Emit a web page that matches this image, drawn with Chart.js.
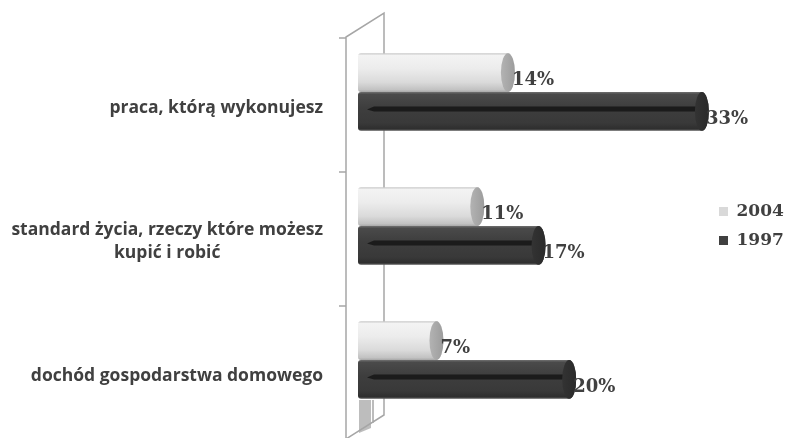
<!DOCTYPE html>
<html>
<head>
<meta charset="utf-8">
<script src="https://cdn.jsdelivr.net/npm/chart.js@4"></script>
<style>
  html, body { margin: 0; padding: 0; background: #fff; overflow: hidden; }
  #wrap { width: 788px; height: 438px; }
</style>
</head>
<body>
<div id="wrap"><canvas id="chart"></canvas></div>
<script>
const categories = [
  'praca, którą wykonujesz',
  ['standard życia, rzeczy które możesz', 'kupić i robić'],
  'dochód gospodarstwa domowego'
];
const years = ['2004', '1997'];
const values2004 = [14, 11, 7];
const values1997 = [33, 17, 20];

const labelColor = '#404040';
const serif = 'DejaVu Serif';

// cylinder look for each series
const cylStyles = [
  {
    body: [[0, '#c4c4c4'], [0.06, '#f3f3f3'], [0.4, '#ececec'], [0.75, '#dadada'], [0.94, '#c2c2c2'], [1, '#a8a8a8']],
    cap: ['#9c9c9c', '#b3b3b3'],
    stripe: null
  },
  {
    body: [[0, '#707070'], [0.06, '#4a4a4a'], [0.4, '#3e3e3e'], [0.8, '#393939'], [0.94, '#2f2f2f'], [1, '#5a5a5a']],
    cap: ['#2a2a2a', '#333333'],
    stripe: '#1b1b1b'
  }
];

function drawCylinder(ctx, el, st) {
  const h = el.height;
  const top = el.y - h / 2, bot = el.y + h / 2;
  const left = el.base - 7, right = el.x;
  const rx = 7, r = 3;
  const g = ctx.createLinearGradient(0, top, 0, bot);
  st.body.forEach(([s, c]) => g.addColorStop(s, c));
  ctx.beginPath();
  ctx.moveTo(left + r, top);
  ctx.lineTo(right, top);
  ctx.ellipse(right, el.y, rx, h / 2, 0, -Math.PI / 2, Math.PI / 2);
  ctx.lineTo(left + r, bot);
  ctx.quadraticCurveTo(left, bot, left, bot - r);
  ctx.lineTo(left, top + r);
  ctx.quadraticCurveTo(left, top, left + r, top);
  ctx.closePath();
  ctx.fillStyle = g;
  ctx.fill();

  if (st.stripe) {
    ctx.beginPath();
    ctx.moveTo(left + 9, el.y - 2);
    ctx.lineTo(left + 16, el.y - 5);
    ctx.lineTo(right, el.y - 5);
    ctx.lineTo(right, el.y);
    ctx.lineTo(left + 16, el.y);
    ctx.closePath();
    ctx.fillStyle = st.stripe;
    ctx.fill();
  }

  const cg = ctx.createLinearGradient(right - rx, 0, right + rx, 0);
  cg.addColorStop(0, st.cap[1]);
  cg.addColorStop(1, st.cap[0]);
  ctx.beginPath();
  ctx.ellipse(right, el.y, rx, h / 2, 0, 0, Math.PI * 2);
  ctx.fillStyle = cg;
  ctx.fill();
}

// back wall of the 3D plot plus the category ticks
const wallPlugin = {
  id: 'wall',
  beforeDatasetsDraw(chart) {
    const {ctx, chartArea: a} = chart;
    const band = (a.bottom - a.top) / categories.length;
    const fx = a.left - 19, bx = a.left + 19;
    ctx.save();
    // floor side at the bottom
    ctx.fillStyle = '#bdbdbd';
    ctx.beginPath();
    ctx.moveTo(fx + 13, a.bottom - 27);
    ctx.lineTo(fx + 25, a.bottom - 27);
    ctx.lineTo(fx + 25, a.bottom + 1);
    ctx.lineTo(fx + 13, a.bottom + 6);
    ctx.closePath();
    ctx.fill();
    ctx.strokeStyle = '#a6a6a6';
    ctx.lineWidth = 1.5;
    ctx.beginPath();
    ctx.moveTo(fx, a.bottom + 14);
    ctx.lineTo(fx, a.top + 12);
    ctx.lineTo(bx, a.top - 12);
    ctx.lineTo(bx, a.bottom - 12);
    ctx.lineTo(fx, a.bottom + 12);
    ctx.moveTo(fx + 27, a.bottom - 27);
    ctx.lineTo(fx + 27, a.bottom - 4);
    for (let i = 0; i < categories.length; i++) {
      const y = a.top + 13 + i * band;
      ctx.moveTo(fx - 7, y);
      ctx.lineTo(fx, y);
    }
    ctx.stroke();
    ctx.restore();
  }
};

// draw the bars as cylinders instead of flat rectangles
const cylinderPlugin = {
  id: 'cylinders',
  beforeDatasetDraw(chart, args) {
    const meta = args.meta;
    const ctx = chart.ctx;
    ctx.save();
    meta.data.forEach(el => drawCylinder(ctx, el, cylStyles[args.index]));
    ctx.restore();
    return false;
  },
  afterDatasetsDraw(chart) {
    const ctx = chart.ctx;
    ctx.save();
    ctx.font = 'bold 18px "' + serif + '"';
    ctx.fillStyle = labelColor;
    ctx.textAlign = 'left';
    ctx.textBaseline = 'middle';
    chart.data.datasets.forEach((ds, di) => {
      chart.getDatasetMeta(di).data.forEach((el, i) => {
        ctx.fillText(ds.data[i] + '%', el.x + 4, el.y + 8);
      });
    });
    ctx.restore();
  }
};

// category names, widest line right-aligned, others centred under it
const categoryLabels = {
  id: 'catLabels',
  afterDraw(chart) {
    const ctx = chart.ctx;
    const yScale = chart.scales.y;
    const xr = chart.chartArea.left - 42;
    ctx.save();
    ctx.font = 'bold 17.5px "Open Sans"';
    ctx.fillStyle = labelColor;
    ctx.textAlign = 'center';
    ctx.textBaseline = 'middle';
    categories.forEach((c, i) => {
      const lines = Array.isArray(c) ? c : [c];
      const w = Math.max(...lines.map(l => ctx.measureText(l).width));
      const cx = xr - w / 2;
      const lh = 23;
      const y0 = yScale.getPixelForValue(i) + 16 - (lines.length - 1) * lh / 2;
      lines.forEach((l, k) => ctx.fillText(l, cx, y0 + k * lh));
    });
    ctx.restore();
  }
};

new Chart(document.getElementById('chart'), {
  type: 'bar',
  data: {
    labels: categories,
    datasets: [{
      label: years[0],
      data: values2004,
      backgroundColor: '#d9d9d9',
      borderWidth: 0
    },
    {
      label: years[1],
      data: values1997,
      backgroundColor: '#404040',
      borderWidth: 0
    }]
  },
  options: {
    indexAxis: 'y',
    responsive: true,
    maintainAspectRatio: false,
    animation: false,
    categoryPercentage: 0.58,
    barPercentage: 1,
    scales: {
      x: {
        display: false,
        min: 0,
        max: 33.5
      },
      y: {
        display: false
      }
    },
    layout: {
      padding: { left: 365, top: 25, bottom: 11, right: 0 }
    },
    plugins: {
      legend: {
        position: 'right',
        maxWidth: 81,
        labels: {
          boxWidth: 9,
          boxHeight: 9,
          padding: 12,
          color: labelColor,
          font: { family: serif, size: 17, weight: 'bold' }
        }
      },
      tooltip: { enabled: false }
    }
  },
  plugins: [wallPlugin, cylinderPlugin, categoryLabels]
});
</script>
</body>
</html>
